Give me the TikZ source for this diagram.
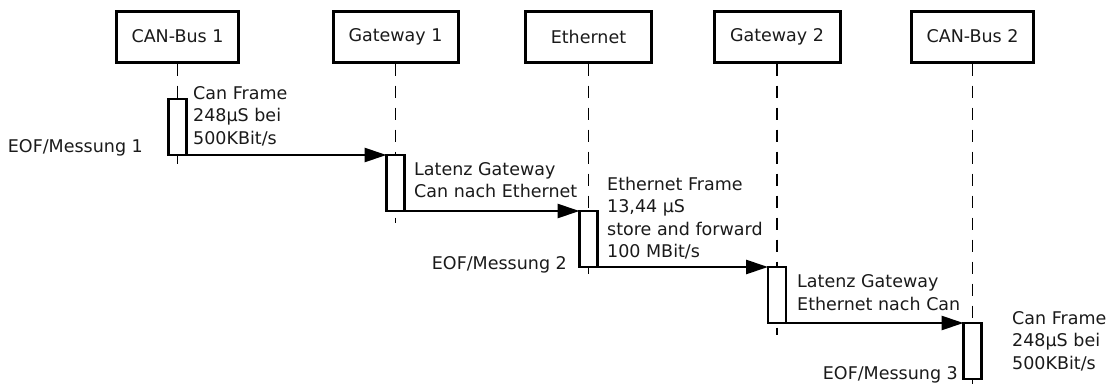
\documentclass[tikz,border=0pt]{standalone}
\usepackage{fontspec}
\setmainfont{DejaVu Sans}
\usetikzlibrary{arrows.meta,calc}
\definecolor{ink}{RGB}{26,26,26}
\begin{document}
\begin{tikzpicture}[x=1pt,y=-1pt,
  every node/.style={font=\fontsize{17.5}{22.5}\selectfont, text=ink},
  head/.style={draw=black, line width=3pt, fill=white, minimum height=51pt, inner sep=0pt},
  act/.style={draw=black, line width=2.7pt, fill=white, minimum width=18pt, minimum height=56pt, inner sep=0pt, outer sep=0pt},
  life/.style={draw=black, line width=1.3pt, dash pattern=on 12pt off 10pt},
  msg/.style={draw=black, line width=2.7pt, -{Triangle[length=22pt,width=14pt]}},
  note/.style={align=left, inner sep=0pt, anchor=west},
  eof/.style={inner sep=0pt, anchor=east}]
\useasboundingbox (0,0) rectangle (1113,388);

% participants
\node[head, minimum width=122pt] (h1) at (177.5,36.5) {CAN-Bus 1};
\node[head, minimum width=125pt] (h2) at (395.5,36.5) {Gateway 1};
\node[head, minimum width=126pt] (h3) at (588.5,36.5) {Ethernet};
\node[head, minimum width=126pt] (h4) at (777,36.5) {Gateway 2};
\node[head, minimum width=122pt] (h5) at (972.5,36.5) {CAN-Bus 2};

% lifeline ends
\coordinate (e1) at (177.5,167);
\coordinate (e2) at (395.5,223);
\coordinate (e3) at (588.5,278);
\coordinate (e4) at (777,335);
\coordinate (e5) at (972.5,392);

% lifelines
\draw[life] (h1.south) -- (e1);
\draw[life] (h2.south) -- (e2);
\draw[life] (h3.south) -- (e3);
\draw[life] (h4.south) -- (e4);
\draw[life] (h5.south) -- (e5);

% activations
\node[act] (a1) at (177.5,127) {};
\node[act] (a2) at (395.5,183) {};
\node[act] (a3) at (588.5,239) {};
\node[act] (a4) at (777,295) {};
\node[act] (a5) at (972.5,351) {};

% messages
\draw[msg] (a1.south east) -- (a2.north west);
\draw[msg] (a2.south east) -- (a3.north west);
\draw[msg] (a3.south east) -- (a4.north west);
\draw[msg] (a4.south east) -- (a5.north west);

% annotations
\node[note] (t1) at (193,116) {Can Frame\\248µS bei\\500KBit/s};
\node[note] (t2) at (414,180) {Latenz Gateway\\Can nach Ethernet};
\node[note] (t3) at (607,218) {Ethernet Frame\\13,44 µS\\store and forward\\100 MBit/s};
\node[note] (t4) at (797,292.5) {Latenz Gateway\\Ethernet nach Can};
\node[note] (t5) at (1012,341) {Can Frame\\248µS bei\\500KBit/s};

\node[eof] (m1) at (143,148) {EOF/Messung 1};
\node[eof] (m2) at (567,265) {EOF/Messung 2};
\node[eof] (m3) at (958,375) {EOF/Messung 3};
\end{tikzpicture}
\end{document}
